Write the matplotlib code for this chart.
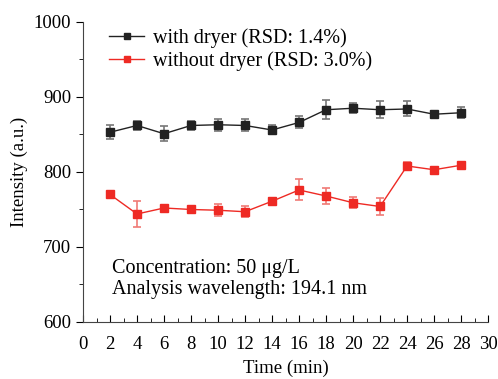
import matplotlib.pyplot as plt
from matplotlib.lines import Line2D
from matplotlib.ticker import MultipleLocator

plt.rcParams['font.family'] = ['Liberation Serif', 'DejaVu Serif']

# data
time = [2, 4, 6, 8, 10, 12, 14, 16, 18, 20, 22, 24, 26, 28]
with_dryer = [853, 862, 851, 862, 863, 862, 856, 866, 883, 885, 883, 884, 877, 879]
with_err = [9, 6, 10, 6, 8, 8, 6, 8, 13, 7, 11, 10, 4, 7]
without_dryer = [770, 744, 752, 750, 749, 747, 761, 776, 768, 759, 754, 808, 803, 809]
without_err = [2, 17, 2, 2, 8, 7, 2, 14, 11, 7, 11, 5, 2, 2]
labels = ['with dryer (RSD: 1.4%)', 'without dryer (RSD: 3.0%)']

black = '#222222'
red = '#ee2a24'

fig = plt.figure(figsize=(4.98, 3.79), dpi=100)
ax = fig.add_axes([0.1667, 0.1504, 0.8133, 0.7916])

ax.errorbar(time, with_dryer, yerr=with_err, fmt='-s', color=black,
            ecolor='#777777', elinewidth=1.2, capsize=3, capthick=1.2,
            markersize=6, linewidth=1)
ax.errorbar(time, without_dryer, yerr=without_err, fmt='-s', color=red,
            ecolor='#f07a76', elinewidth=1.2, capsize=3, capthick=1.2,
            markersize=6, linewidth=1)

ax.set_xlim(0, 30)
ax.set_ylim(600, 1000)
ax.xaxis.set_major_locator(MultipleLocator(2))
ax.xaxis.set_minor_locator(MultipleLocator(1))
ax.yaxis.set_major_locator(MultipleLocator(100))
ax.yaxis.set_minor_locator(MultipleLocator(50))
ax.tick_params(axis='x', which='major', direction='in', length=5, pad=10,
               labelsize=13.5)
ax.tick_params(axis='x', which='minor', direction='in', length=3)
ax.tick_params(axis='y', which='major', direction='out', length=5, labelsize=13.5)
ax.tick_params(axis='y', which='minor', direction='out', length=3)
for s in ['top', 'right']:
    ax.spines[s].set_visible(False)
for s in ['left', 'bottom']:
    ax.spines[s].set_color('#444444')

ax.set_xlabel('Time (min)', fontsize=13.5, labelpad=5)
ax.set_ylabel('Intensity (a.u.)', fontsize=13.5, labelpad=4)

handles = [Line2D([], [], color=black, marker='s', markersize=5, linewidth=1),
           Line2D([], [], color=red, marker='s', markersize=5, linewidth=1)]
ax.legend(handles, labels, loc='upper left', frameon=False, fontsize=14.5,
          handlelength=1.75, handletextpad=0.4, labelspacing=0.15,
          bbox_to_anchor=(0.02, 1.04))

ax.text(0.072, 0.177, 'Concentration: 50 μg/L', transform=ax.transAxes,
        fontsize=14.5, va='center')
ax.text(0.072, 0.107, 'Analysis wavelength: 194.1 nm', transform=ax.transAxes,
        fontsize=14.5, va='center')

fig.savefig('out.png', dpi=100)
